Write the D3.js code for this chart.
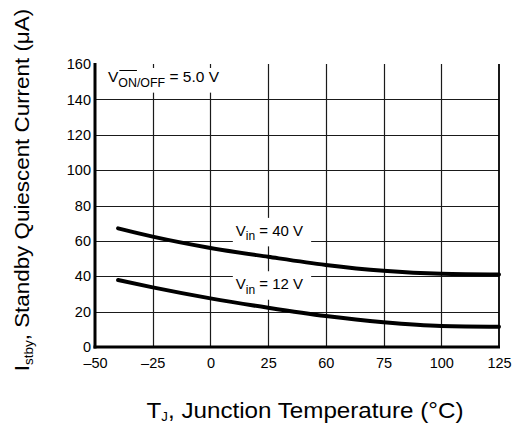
<!DOCTYPE html>
<html>
<head>
<meta charset="utf-8">
<script src="https://cdn.jsdelivr.net/npm/d3@7"></script>
<style>
  html, body { margin: 0; padding: 0; background: #fff; }
  svg { display: block; font-family: "Liberation Sans", Arial, sans-serif; }
</style>
</head>
<body>
<svg id="chart" width="515" height="432"></svg>
<script>
// ---- data ----
const xTickValues = [-50, -25, 0, 25, 50, 75, 100, 125];
const xTickLabels = ["\u201350", "\u201325", "0", "25", "60", "75", "100", "125"];
const yTickValues = [0, 20, 40, 60, 80, 100, 120, 140, 160];
const temps = [-40, -25, 0, 25, 50, 75, 100, 125];
const vin40 = [67.1, 62.4, 56.0, 51.0, 46.4, 43.1, 41.4, 41.0];
const vin12 = [37.9, 33.7, 27.5, 22.2, 17.5, 14.0, 11.9, 11.5];
const seriesLabels = [
  { main: "V", sub: "in", rest: " = 40 V", at: 60, above: true },
  { main: "V", sub: "in", rest: " = 12 V", at: 40, above: false }
];

// ---- layout ----
const svg = d3.select("#chart");
const margin = { left: 95, top: 64, right: 16, bottom: 85 };
const W = 515, H = 432;
const x = d3.scaleLinear().domain([-50, 125]).range([margin.left, W - margin.right]);
const y = d3.scaleLinear().domain([0, 160]).range([H - margin.bottom, margin.top]);

// grid
const grid = svg.append("g");
grid.selectAll("line.h").data(yTickValues.filter(v => v > 0 && v < 160)).join("line")
  .attr("x1", x(-50)).attr("x2", x(125))
  .attr("y1", d => Math.round(y(d)) + 0.5).attr("y2", d => Math.round(y(d)) + 0.5)
  .attr("stroke", "#1a1a1a").attr("stroke-width", 1.2);
grid.selectAll("line.v").data(xTickValues.filter(v => v > -50 && v < 125)).join("line")
  .attr("y1", y(0)).attr("y2", y(160))
  .attr("x1", d => Math.round(x(d)) + 0.5).attr("x2", d => Math.round(x(d)) + 0.5)
  .attr("stroke", "#1a1a1a").attr("stroke-width", 1.2);
// right border
svg.append("line").attr("x1", x(125)).attr("x2", x(125)).attr("y1", y(0)).attr("y2", y(160))
  .attr("stroke", "#000").attr("stroke-width", 1.8);

// labels with white boxes
function addLabel(g, parts, xPos, yPos, anchor, size) {
  const t = g.append("text").attr("x", xPos).attr("y", yPos)
    .attr("font-size", size).attr("fill", "#000").attr("text-anchor", anchor);
  t.append("tspan").text(parts.main);
  t.append("tspan").attr("font-size", size * 0.8).attr("dy", size * 0.3).text(parts.sub);
  t.append("tspan").attr("dy", -size * 0.3).text(parts.rest);
  return t;
}

const labelLayer = svg.append("g");
// V_ON/OFF label
const onoffG = labelLayer.append("g");
const onoff = addLabel(onoffG, { main: "V", sub: "ON/OFF", rest: " = 5.0 V" }, x(-50) + 13, y(160) + 18, "start", 15.5);
{
  const bb = onoff.node().getBBox();
  onoffG.insert("rect", "text").attr("x", bb.x - 6).attr("y", bb.y)
    .attr("width", bb.width + 10).attr("height", bb.height + 3).attr("fill", "#fff");
  // overline over "ON"
  const vW = onoff.node().getSubStringLength(0, 1);
  const onW = onoff.node().getSubStringLength(1, 2);
  onoffG.append("line").attr("x1", bb.x + vW + 1).attr("x2", bb.x + vW + onW)
    .attr("y1", bb.y + 2.5).attr("y2", bb.y + 2.5).attr("stroke", "#000").attr("stroke-width", 1);
}
seriesLabels.forEach(s => {
  const g = labelLayer.append("g");
  const t = addLabel(g, s, x(11), s.above ? y(s.at) - 5 : y(s.at) + 13, "start", 15);
  const bb = t.node().getBBox();
  g.insert("rect", "text").attr("x", bb.x - 3).attr("y", bb.y - 4)
    .attr("width", bb.width + 11).attr("height", bb.height + 7).attr("fill", "#fff");
});

// curves
const line = d3.line().x((d, i) => x(temps[i])).y(d => y(d)).curve(d3.curveMonotoneX);
[vin40, vin12].forEach(s => {
  svg.append("path").attr("d", line(s)).attr("fill", "none")
    .attr("stroke", "#000").attr("stroke-width", 4).attr("stroke-linecap", "round");
});

// axes
const xAxis = d3.axisBottom(x).tickValues(xTickValues).tickSize(0).tickPadding(9)
  .tickFormat((d, i) => xTickLabels[i]);
const gx = svg.append("g").attr("transform", `translate(0,${y(0)})`).call(xAxis);
gx.select(".domain").remove();
gx.selectAll("text").attr("font-size", 14.5).attr("fill", "#000")
  .attr("font-family", "Liberation Sans, Arial, sans-serif").attr("dy", null).attr("y", 21);

const yAxis = d3.axisLeft(y).tickValues(yTickValues).tickSize(0).tickPadding(4);
const gy = svg.append("g").attr("transform", `translate(${x(-50)},0)`).call(yAxis);
gy.select(".domain").remove();
gy.selectAll("text").attr("font-size", 14.5).attr("fill", "#000")
  .attr("font-family", "Liberation Sans, Arial, sans-serif");

// thick axis lines
svg.append("line").attr("x1", x(-50)).attr("x2", x(-50)).attr("y1", y(160) - 1).attr("y2", y(0) + 1.5)
  .attr("stroke", "#000").attr("stroke-width", 3);
svg.append("line").attr("x1", x(-50) - 1.5).attr("x2", x(125) + 1).attr("y1", y(0)).attr("y2", y(0))
  .attr("stroke", "#000").attr("stroke-width", 3);

// axis titles
const xt = svg.append("text").attr("transform", "translate(305,418) scale(1.1,1)")
  .attr("text-anchor", "middle").attr("font-size", 22).attr("fill", "#000");
xt.append("tspan").text("T");
xt.append("tspan").attr("font-size", 12).attr("dy", 3).text("J");
xt.append("tspan").attr("dy", -3).text(", Junction Temperature (\u00B0C)");

const yt = svg.append("text").attr("transform", "translate(29,190) rotate(-90) scale(1.12,1)")
  .attr("text-anchor", "middle").attr("font-size", 20).attr("fill", "#000");
yt.append("tspan").text("I");
yt.append("tspan").attr("font-size", 12).attr("dy", 4).text("stby");
yt.append("tspan").attr("dy", -4).text(", Standby Quiescent Current (\u03BCA)");
</script>
</body>
</html>
